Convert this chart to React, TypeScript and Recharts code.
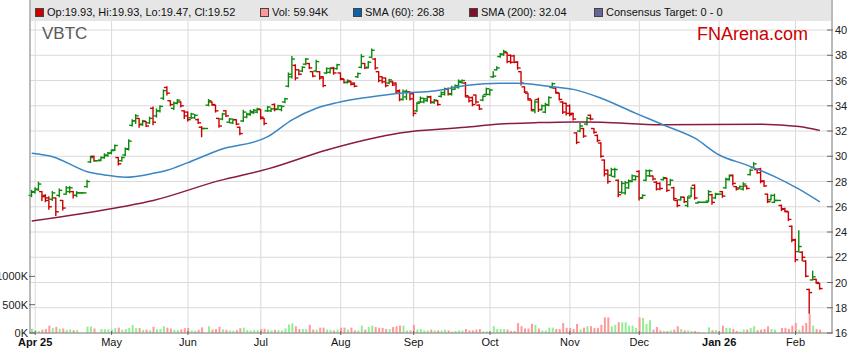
import React from 'react';
import { ComposedChart, Bar, Line, XAxis, YAxis, CartesianGrid } from 'recharts';

// [open, high, low, close, volume (K)] — one entry per weekday slot
type B = [number, number, number, number, number];

const barsApr: B[] = [
  [26.9, 27.3, 26.8, 27.2, 75], [27.15, 27.5, 27.1, 27.4, 50], [27.35, 27.95, 27.3, 27.8, 35],
  [27.2, 27.2, 26.5, 26.8, 60], [26.9, 26.95, 26.4, 26.5, 70], [26.7, 26.8, 25.8, 26.0, 130],
  [26.6, 27.2, 26.5, 27.1, 90], [26.7, 26.7, 25.3, 25.6, 110], [26.9, 27.4, 26.8, 27.3, 75],
  [26.5, 26.5, 25.75, 25.9, 80], [27.0, 27.6, 27.0, 27.5, 55], [27.2, 27.6, 27.1, 27.5, 65],
  [27.2, 27.2, 26.7, 26.9, 50], [26.9, 27.2, 26.8, 27.1, 50], [27.1, 27.1, 27.1, 27.1, 0],
  [27.1, 27.1, 27.1, 27.1, 0], [27.6, 28.1, 27.55, 28.0, 115], [29.55, 30.0, 29.5, 29.9, 115],
  [30.0, 30.0, 29.6, 29.65, 80], [29.65, 29.65, 29.65, 29.65, 0], [29.7, 29.95, 29.65, 29.9, 70],
  [29.9, 30.2, 29.85, 30.1, 65], [30.05, 30.3, 30.0, 30.25, 65],
];
const barsMay: B[] = [
  [30.25, 30.5, 30.2, 30.45, 60], [30.5, 30.9, 30.45, 30.85, 85], [29.9, 29.9, 29.3, 29.4, 95],
  [29.65, 29.95, 29.6, 29.9, 55], [30.1, 30.65, 30.05, 30.6, 70], [30.55, 31.3, 30.5, 31.2, 90],
  [32.45, 32.9, 32.4, 32.8, 140], [32.8, 33.3, 32.6, 33.2, 85], [33.0, 33.0, 32.3, 32.5, 90],
  [32.55, 32.85, 32.45, 32.8, 55], [32.75, 32.75, 32.35, 32.4, 60], [32.65, 33.1, 32.6, 33.0, 50],
  [33.8, 33.9, 32.5, 32.7, 110], [33.2, 33.75, 33.1, 33.6, 65], [33.6, 34.0, 33.5, 33.95, 70],
  [34.6, 35.25, 34.5, 35.2, 120], [35.45, 35.5, 34.85, 35.0, 95], [34.4, 34.4, 34.0, 34.1, 80],
  [33.8, 34.3, 33.7, 34.2, 55], [34.2, 34.5, 34.15, 34.45, 50], [34.3, 34.3, 33.9, 34.0, 65],
  [33.6, 33.6, 33.0, 33.2, 85],
];
const barsJun: B[] = [
  [33.5, 33.5, 32.8, 32.9, 90], [33.05, 33.4, 33.0, 33.35, 45], [33.05, 33.3, 33.0, 33.25, 40],
  [32.9, 32.95, 32.6, 32.65, 55], [32.3, 32.35, 31.55, 32.2, 100], [32.2, 32.2, 32.2, 32.2, 0],
  [34.05, 34.5, 34.0, 34.4, 120], [34.3, 34.3, 34.05, 34.1, 60], [34.05, 34.05, 33.5, 33.6, 70],
  [33.0, 33.0, 32.3, 32.4, 110], [32.95, 33.4, 32.9, 33.35, 65], [33.6, 33.6, 33.15, 33.2, 55],
  [32.7, 33.0, 32.65, 32.95, 45], [32.65, 32.95, 32.6, 32.9, 40], [32.9, 32.9, 32.5, 32.55, 50],
  [32.3, 32.3, 31.7, 31.8, 85], [32.8, 33.65, 32.75, 33.5, 95], [33.1, 33.4, 33.05, 33.35, 50],
  [33.3, 33.65, 33.25, 33.55, 45], [33.45, 33.7, 33.4, 33.65, 55], [33.5, 33.8, 33.45, 33.75, 50],
];
const barsJul: B[] = [
  [33.7, 33.7, 32.95, 33.1, 70], [33.0, 33.0, 32.5, 32.6, 75], [33.6, 33.95, 33.55, 33.9, 60],
  [33.6, 33.8, 33.55, 33.75, 45], [34.1, 34.15, 33.6, 33.7, 55], [33.75, 34.05, 33.7, 34.0, 50],
  [33.7, 34.0, 33.6, 33.95, 45], [34.3, 34.6, 34.25, 34.55, 80], [35.55, 36.6, 35.5, 36.5, 150],
  [36.3, 37.9, 36.2, 37.7, 170], [37.2, 37.25, 36.05, 36.2, 120], [36.85, 36.85, 36.45, 36.5, 70],
  [36.75, 37.1, 36.7, 37.05, 70], [37.3, 37.75, 37.25, 37.7, 70], [37.35, 37.35, 36.95, 37.0, 145],
  [36.7, 36.7, 36.3, 36.35, 60], [36.75, 37.6, 36.7, 37.5, 60], [36.7, 36.7, 36.1, 36.2, 95],
  [36.3, 36.3, 35.5, 35.6, 95], [36.6, 37.0, 36.55, 36.95, 60], [36.65, 37.0, 36.6, 36.95, 55],
  [37.0, 37.05, 36.5, 36.6, 45], [36.95, 37.3, 36.9, 37.25, 60],
];
const barsAug: B[] = [
  [36.6, 36.6, 36.05, 36.15, 95], [36.1, 36.1, 35.8, 35.85, 95], [35.85, 36.05, 35.8, 36.0, 60],
  [35.9, 35.95, 35.65, 35.7, 95], [35.8, 35.8, 35.5, 35.55, 45], [36.3, 36.6, 36.25, 36.55, 45],
  [37.05, 38.05, 37.0, 37.9, 130], [37.35, 37.35, 36.95, 37.0, 60], [37.05, 37.5, 37.0, 37.45, 105],
  [37.85, 38.5, 37.8, 38.4, 130], [37.7, 37.75, 36.9, 37.0, 105], [36.7, 36.7, 35.9, 36.0, 90],
  [36.3, 36.3, 35.8, 35.9, 90], [36.2, 36.2, 35.5, 35.6, 70], [35.8, 36.1, 35.75, 36.05, 70],
  [35.9, 35.95, 35.6, 35.65, 105], [35.8, 35.8, 35.0, 35.1, 120], [35.2, 35.25, 34.4, 34.5, 130],
  [34.5, 35.25, 34.45, 35.15, 130], [34.7, 35.25, 34.5, 35.1, 45], [35.1, 35.1, 34.45, 34.55, 45],
];
const barsSep: B[] = [
  [34.95, 35.0, 33.2, 33.4, 145], [33.6, 34.25, 33.55, 34.2, 60], [34.3, 34.7, 34.25, 34.6, 70],
  [34.3, 34.6, 34.25, 34.55, 45], [34.4, 34.75, 34.35, 34.7, 45], [34.7, 34.75, 34.2, 34.3, 60],
  [34.25, 34.5, 34.2, 34.45, 45], [34.4, 34.42, 34.05, 34.1, 45], [34.75, 35.1, 34.7, 35.05, 45],
  [34.9, 35.4, 34.85, 35.3, 60], [35.35, 35.4, 34.85, 34.95, 45], [34.9, 35.55, 34.85, 35.45, 25],
  [35.3, 35.65, 35.3, 35.6, 35], [35.45, 36.05, 35.4, 35.95, 45], [35.85, 36.05, 35.8, 36.0, 45],
  [35.8, 35.85, 34.7, 34.8, 70], [34.7, 34.72, 34.3, 34.4, 45], [34.65, 34.7, 34.0, 34.1, 45],
  [34.85, 34.86, 34.2, 34.3, 60], [34.05, 34.07, 33.7, 33.75, 70], [34.45, 34.8, 34.4, 34.75, 30],
  [34.9, 35.4, 34.85, 35.35, 30],
];
const barsOct: B[] = [
  [34.9, 35.3, 34.85, 35.25, 18], [36.3, 36.7, 36.25, 36.35, 120], [36.85, 37.1, 36.84, 37.0, 70],
  [37.9, 38.15, 37.85, 38.1, 70], [38.05, 38.4, 38.0, 38.3, 70], [38.2, 38.2, 37.4, 37.5, 60],
  [38.0, 38.03, 37.37, 37.45, 35], [37.95, 38.0, 37.4, 37.45, 35], [37.45, 37.5, 36.9, 37.0, 175],
  [36.7, 36.7, 35.65, 35.8, 120], [35.5, 35.5, 35.05, 35.1, 80], [35.0, 35.0, 34.45, 34.55, 80],
  [34.45, 34.46, 33.6, 33.7, 160], [33.6, 34.46, 33.45, 34.3, 145], [34.5, 34.6, 33.55, 33.7, 80],
  [33.7, 34.07, 33.67, 34.0, 45], [33.5, 34.2, 33.45, 34.1, 45], [34.05, 34.72, 34.0, 34.65, 95],
  [35.45, 35.8, 35.4, 35.75, 95], [35.4, 35.4, 35.0, 35.05, 70], [35.0, 35.0, 34.45, 34.5, 70],
  [34.3, 34.33, 33.4, 33.5, 175], [34.2, 34.2, 33.27, 33.4, 90],
];
const barsNov: B[] = [
  [34.0, 34.07, 33.2, 33.3, 90], [33.4, 33.4, 32.88, 32.95, 70], [31.85, 31.87, 31.0, 31.1, 160],
  [32.0, 32.6, 31.95, 32.4, 60], [32.2, 32.2, 31.5, 31.6, 95], [32.55, 33.1, 32.48, 33.0, 120],
  [33.25, 33.27, 32.88, 32.95, 120], [32.2, 32.2, 31.82, 31.9, 90], [31.65, 31.69, 31.16, 31.25, 90],
  [31.05, 31.08, 29.92, 30.0, 145], [29.7, 29.71, 28.44, 28.6, 275], [28.9, 28.92, 27.86, 28.0, 275],
  [28.5, 29.05, 28.44, 28.95, 120], [28.4, 29.05, 28.34, 28.95, 145], [28.1, 28.12, 26.8, 26.95, 190],
  [27.15, 28.0, 27.07, 27.85, 190], [27.1, 28.0, 27.0, 27.9, 190], [27.5, 28.12, 27.47, 28.05, 130],
  [28.0, 28.52, 27.99, 28.45, 130], [28.15, 28.44, 28.12, 28.4, 90],
];
const barsDec: B[] = [
  [28.8, 28.86, 26.54, 26.7, 275], [26.7, 26.94, 26.67, 26.9, 265], [28.1, 28.92, 28.07, 28.85, 160],
  [28.45, 28.92, 28.4, 28.85, 225], [28.44, 28.44, 28.12, 28.2, 60], [27.95, 27.99, 27.33, 27.4, 105],
  [27.85, 27.9, 27.35, 27.45, 45], [28.15, 28.34, 28.12, 28.3, 35], [28.25, 28.26, 27.2, 27.3, 35],
  [27.75, 28.18, 27.73, 28.1, 45], [27.5, 27.55, 26.54, 26.65, 60], [26.5, 26.54, 26.0, 26.1, 120],
  [26.55, 26.8, 26.54, 26.75, 70], [26.75, 26.75, 26.33, 26.4, 45], [26.1, 26.8, 26.0, 26.7, 45],
  [26.85, 27.55, 26.8, 27.45, 35], [27.7, 27.73, 26.6, 26.7, 35], [26.3, 26.4, 26.3, 26.35, 20],
  [26.35, 26.35, 26.35, 26.35, 0], [26.35, 26.35, 26.35, 26.35, 0], [26.45, 27.28, 26.4, 27.2, 100],
  [26.95, 27.0, 26.2, 26.35, 50], [26.7, 27.07, 26.67, 27.0, 50],
];
const barsJan: B[] = [
  [27.0, 27.0, 27.0, 27.0, 0], [27.2, 27.2, 26.75, 26.85, 130], [27.5, 28.26, 27.47, 28.2, 90],
  [28.15, 28.52, 28.12, 28.45, 90], [28.5, 28.52, 27.73, 27.85, 70], [27.6, 27.6, 27.33, 27.4, 35],
  [27.5, 27.65, 27.47, 27.6, 25], [27.4, 27.9, 27.33, 27.8, 60], [27.65, 27.65, 27.4, 27.45, 60],
  [28.55, 28.97, 28.52, 28.9, 90], [29.1, 29.5, 29.05, 29.4, 118], [28.95, 28.97, 28.65, 28.7, 50],
  [29.0, 29.05, 27.9, 28.0, 60], [28.05, 28.07, 27.6, 27.65, 70], [27.0, 27.0, 26.33, 26.4, 118],
  [26.55, 26.94, 26.54, 26.9, 70], [26.35, 27.0, 26.33, 26.5, 60], [26.5, 26.5, 26.5, 26.5, 0],
  [26.1, 26.14, 25.7, 25.8, 90], [25.85, 25.88, 25.6, 25.65, 90], [25.6, 25.6, 24.9, 25.0, 75],
  [24.45, 24.48, 23.23, 23.35, 130],
];
const barsFeb: B[] = [
  [23.4, 23.42, 21.65, 21.8, 177], [22.45, 24.1, 22.44, 22.85, 60], [22.4, 22.44, 21.73, 22.0, 130],
  [21.7, 21.73, 20.46, 20.5, 177], [19.45, 19.46, 17.56, 19.2, 340], [20.2, 20.9, 20.2, 20.45, 130],
  [20.25, 20.25, 19.94, 20.0, 70], [19.93, 19.93, 19.47, 19.52, 59.94],
];

// [slot index, value]
const sma60Pts: [number, number][] = [
  [0, 30.24], [6, 29.97], [16, 28.78], [21, 28.52], [27, 28.34], [35, 28.65], [39, 28.9],
  [45, 29.5], [54, 30.5], [68, 31.55], [75, 32.88], [82, 33.8], [88, 34.25], [97, 34.68],
  [106, 35.0], [116, 35.18], [125, 35.6], [135, 35.79], [140, 35.79], [150, 35.5], [156, 35.3],
  [164, 34.6], [174, 33.4], [182, 32.48], [191, 31.43], [198, 30.1], [206, 29.3], [214, 28.39],
  [221, 27.39], [227, 26.38],
];
const sma200Pts: [number, number][] = [
  [0, 24.87], [26, 26.0], [35, 26.5], [54, 28.07], [68, 29.0], [85, 30.5], [97, 31.35],
  [106, 31.85], [125, 32.3], [135, 32.56], [145, 32.66], [156, 32.72], [164, 32.7], [181, 32.5],
  [210, 32.54], [221, 32.35], [227, 32.04],
];

const monthTicks = [1, 23, 45, 66, 89, 110, 132, 155, 175, 198, 220];
const monthLabels = ['Apr 25', 'May', 'Jun', 'Jul', 'Aug', 'Sep', 'Oct', 'Nov', 'Dec', 'Jan 26', 'Feb'];
const boldLabels = ['Apr 25', 'Jan 26'];
const priceTicks = [16, 18, 20, 22, 24, 26, 28, 30, 32, 34, 36, 38, 40];
const volTicks = [0, 500, 1000];

const SLOTS = 231;
const FONT = '"Liberation Sans", Arial, Helvetica, sans-serif';
const UP = '#0b8a0b';
const DOWN = '#cc0000';
const VUP = '#93ee93';
const VDOWN = '#ff9898';
const SMA60C = '#3a86c4';
const SMA200C = '#8a1c40';

const allBars: B[] = [
  ...barsApr, ...barsMay, ...barsJun, ...barsJul, ...barsAug, ...barsSep,
  ...barsOct, ...barsNov, ...barsDec, ...barsJan, ...barsFeb,
];

const table: any[] = [];
for (let i = 0; i < SLOTS; i++) {
  const row: any = { i };
  const b = allBars[i];
  if (b) {
    row.o = b[0]; row.h = b[1]; row.l = b[2]; row.c = b[3];
    row.range = [b[2], b[1]];
    row.vol = b[4];
  }
  table.push(row);
}
sma60Pts.forEach(([i, v]) => { table[i].sma60 = v; });
sma200Pts.forEach(([i, v]) => { table[i].sma200 = v; });

const OhlcShape = (props: any) => {
  const { x, y, width, height, payload } = props;
  if (!payload || payload.o == null) return null;
  const cx = x + width / 2;
  const span = payload.h - payload.l;
  const hgt = Math.max(0, height || 0);
  const k = span > 0 ? hgt / span : 0;
  const yO = y + (payload.h - payload.o) * k;
  const yC = y + (payload.h - payload.c) * k;
  const color = payload.c >= payload.o ? UP : DOWN;
  return (
    <g stroke={color} strokeWidth={1.4}>
      <line x1={cx} x2={cx} y1={y - 0.5} y2={y + hgt + 0.5} />
      <line x1={cx - 3} x2={cx} y1={yO} y2={yO} />
      <line x1={cx} x2={cx + 3} y1={yC} y2={yC} />
    </g>
  );
};

const VolShape = (props: any) => {
  const { x, y, width, height, payload } = props;
  if (!payload || !payload.vol || !(height > 0)) return null;
  const fill = payload.c >= payload.o ? VUP : VDOWN;
  return <rect x={x} y={y} width={width} height={height} fill={fill} />;
};

const XTick = (props: any) => {
  const { x, y, payload } = props;
  const idx = monthTicks.indexOf(payload.value);
  const label = idx >= 0 ? monthLabels[idx] : '';
  return (
    <g>
      <line x1={x} x2={x} y1={y - 2} y2={y + 2} stroke="#666" />
      <text x={x} y={y + 13} textAnchor="middle" fontSize={11} fontFamily={FONT}
        fontWeight={boldLabels.includes(label) ? 700 : 400} fill="#111">{label}</text>
    </g>
  );
};

const PriceTick = (props: any) => {
  const { x, y, payload } = props;
  return (
    <g>
      <line x1={x - 5} x2={x + 1} y1={y} y2={y} stroke="#666" />
      <text x={x + 3} y={y + 4} fontSize={11} fontFamily={FONT} fill="#222">{payload.value}</text>
    </g>
  );
};

const VolTick = (props: any) => {
  const { x, y, payload } = props;
  return (
    <g>
      <line x1={x - 1} x2={x + 5} y1={y} y2={y} stroke="#666" />
      <text x={x - 2} y={y + 4} textAnchor="end" fontSize={11} fontFamily={FONT} fill="#222">{payload.value + 'K'}</text>
    </g>
  );
};

const last = allBars[allBars.length - 1];
const legendItems = [
  { x: 35, color: '#cc0000', text: `Op:${last[0].toFixed(2)}, Hi:${last[1].toFixed(2)}, Lo:${last[2].toFixed(2)}, Cl:${last[3].toFixed(2)}` },
  { x: 260, color: '#ff9999', text: `Vol: ${last[4].toFixed(2)}K` },
  { x: 353, color: '#0a62a8', text: `SMA (60): ${sma60Pts[sma60Pts.length - 1][1].toFixed(2)}` },
  { x: 469, color: '#80102c', text: `SMA (200): ${sma200Pts[sma200Pts.length - 1][1].toFixed(2)}` },
  { x: 594, color: '#666699', text: 'Consensus Target: 0 - 0' },
];

export default function App() {
  return (
    <div style={{ position: 'absolute', left: 0, top: 0, width: 859, height: 363, background: '#fff' }}>
      <ComposedChart width={859} height={363} data={table} margin={{ top: 0, right: 0, bottom: 0, left: 0 }}>
        <CartesianGrid xAxisId="p" yAxisId="p" stroke="#dadada" strokeWidth={1} />
        <XAxis xAxisId="p" dataKey="i" type="category" ticks={monthTicks} interval={0} height={30}
          tick={<XTick />} tickLine={false} tickSize={0} tickMargin={0} axisLine={{ stroke: '#888' }} />
        <XAxis xAxisId="v" dataKey="i" type="category" hide />
        <YAxis yAxisId="v" orientation="left" width={30} domain={[0, 5880]} ticks={volTicks} interval={0}
          allowDataOverflow tick={<VolTick />} tickLine={false} tickSize={0} tickMargin={0} axisLine={{ stroke: '#888' }} />
        <YAxis yAxisId="p" orientation="right" width={27} domain={[16, 42.38]} ticks={priceTicks} interval={0}
          allowDataOverflow tick={<PriceTick />} tickLine={false} tickSize={0} tickMargin={0} axisLine={{ stroke: '#888' }} />
        <Bar xAxisId="v" yAxisId="v" dataKey="vol" barSize={2} shape={<VolShape />} isAnimationActive={false} />
        <Line xAxisId="p" yAxisId="p" dataKey="sma200" type="monotone" stroke={SMA200C} strokeWidth={1.5}
          dot={false} activeDot={false} connectNulls isAnimationActive={false} />
        <Line xAxisId="p" yAxisId="p" dataKey="sma60" type="monotone" stroke={SMA60C} strokeWidth={1.5}
          dot={false} activeDot={false} connectNulls isAnimationActive={false} />
        <Bar xAxisId="p" yAxisId="p" dataKey="range" barSize={3} shape={<OhlcShape />} isAnimationActive={false} />
      </ComposedChart>
      <svg width={859} height={363} style={{ position: 'absolute', left: 0, top: 0, pointerEvents: 'none' }}>
        <rect x={31} y={0} width={800} height={21} fill="#e6e6e6" />
        {legendItems.map((it) => (
          <g key={it.text}>
            <rect x={it.x + 0.5} y={8.5} width={8} height={8} fill={it.color} stroke="#444" strokeWidth={1} />
            <text x={it.x + 12} y={16} fontSize={11} fontFamily={FONT} fill="#111">{it.text}</text>
          </g>
        ))}
        <text x={42} y={39} fontSize={17} fontFamily={FONT} fill="#5a5a5a">VBTC</text>
        <text x={808} y={40} fontSize={18} fontFamily={FONT} fill="#cc0000" textAnchor="end">FNArena.com</text>
      </svg>
    </div>
  );
}
